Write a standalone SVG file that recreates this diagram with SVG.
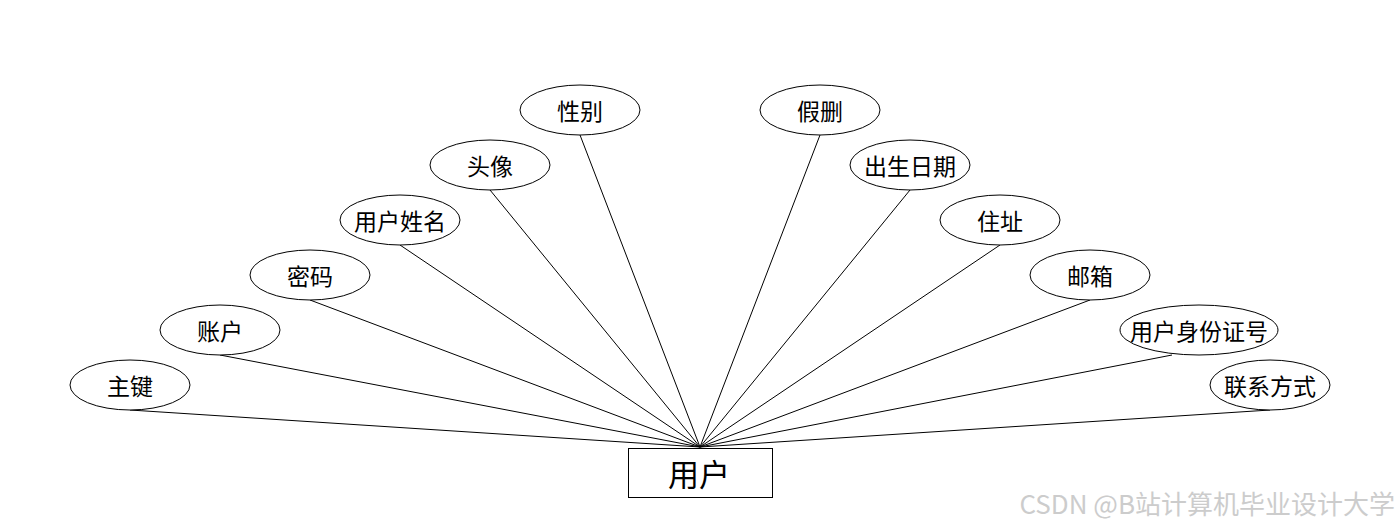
<svg xmlns="http://www.w3.org/2000/svg" width="1400" height="528" viewBox="0 0 1400 528">
<style>
.e{fill:#fff;stroke:#000;stroke-width:1}
.t{font-family:"Noto Sans CJK SC","Noto Sans",sans-serif;font-size:23px;fill:#000;text-anchor:middle;dominant-baseline:central}
.c line{stroke:#000;stroke-width:1}
</style>
<rect width="1400" height="528" fill="#fff"/>
<g class="c" id="connectors">
<line x1="700" y1="447" x2="130" y2="410"/>
<line x1="700" y1="447" x2="220" y2="355"/>
<line x1="700" y1="447" x2="310" y2="300"/>
<line x1="700" y1="447" x2="400" y2="245"/>
<line x1="700" y1="447" x2="490" y2="190"/>
<line x1="700" y1="447" x2="580" y2="135"/>
<line x1="700" y1="447" x2="820" y2="135"/>
<line x1="700" y1="447" x2="910" y2="190"/>
<line x1="700" y1="447" x2="1000" y2="245"/>
<line x1="700" y1="447" x2="1090" y2="300"/>
<line x1="700" y1="447" x2="1172" y2="355"/>
<line x1="700" y1="447" x2="1270" y2="410"/>
</g>
<g id="user"><rect x="628.5" y="448.5" width="144" height="49" fill="#fff" stroke="#000"/><text class="t" x="699" y="472" style="font-size:31px">用户</text></g>
<g id="n1"><ellipse class="e" cx="130" cy="385" rx="60" ry="25"/><text class="t" x="130" y="385">主键</text></g>
<g id="n2"><ellipse class="e" cx="220" cy="330" rx="60" ry="25"/><text class="t" x="220" y="330">账户</text></g>
<g id="n3"><ellipse class="e" cx="310" cy="275" rx="60" ry="25"/><text class="t" x="310" y="275">密码</text></g>
<g id="n4"><ellipse class="e" cx="400" cy="220" rx="60" ry="25"/><text class="t" x="400" y="220">用户姓名</text></g>
<g id="n5"><ellipse class="e" cx="490" cy="165" rx="60" ry="25"/><text class="t" x="490" y="165">头像</text></g>
<g id="n6"><ellipse class="e" cx="580" cy="110" rx="60" ry="25"/><text class="t" x="580" y="110">性别</text></g>
<g id="n7"><ellipse class="e" cx="820" cy="110" rx="60" ry="25"/><text class="t" x="820" y="110">假删</text></g>
<g id="n8"><ellipse class="e" cx="910" cy="165" rx="60" ry="25"/><text class="t" x="910" y="165">出生日期</text></g>
<g id="n9"><ellipse class="e" cx="1000" cy="220" rx="60" ry="25"/><text class="t" x="1000" y="220">住址</text></g>
<g id="n10"><ellipse class="e" cx="1090" cy="275" rx="60" ry="25"/><text class="t" x="1090" y="275">邮箱</text></g>
<g id="n11"><ellipse class="e" cx="1199" cy="330" rx="79" ry="25"/><text class="t" x="1199" y="330">用户身份证号</text></g>
<g id="n12"><ellipse class="e" cx="1270" cy="385" rx="60" ry="25"/><text class="t" x="1270" y="385">联系方式</text></g>
<text x="1395" y="502" style="font-family:'Noto Sans CJK SC','Noto Sans',sans-serif;font-size:26px;fill:#cccccc;text-anchor:end;dominant-baseline:central">CSDN @B站计算机毕业设计大学</text>
</svg>
